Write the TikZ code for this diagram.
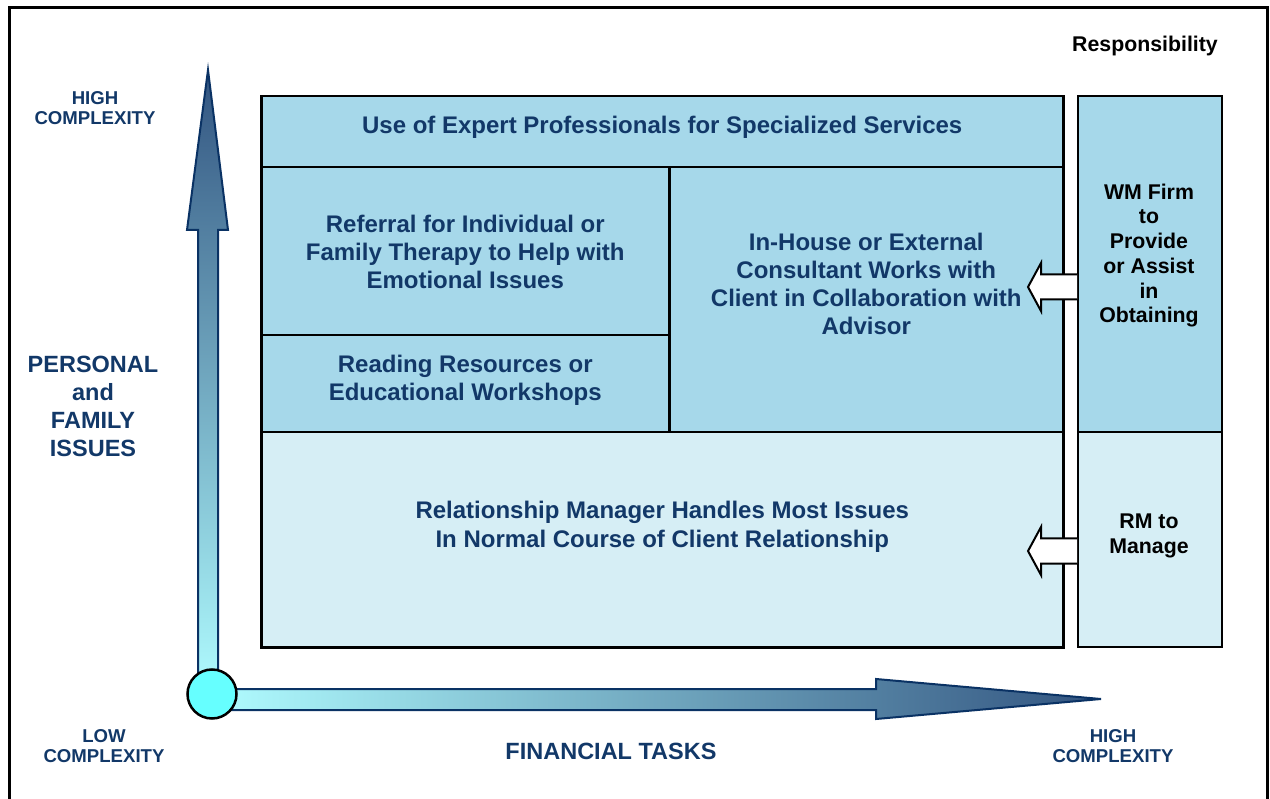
\documentclass[tikz,border=0pt]{standalone}
\usepackage{fontspec}
\usetikzlibrary{calc}
\setmainfont{Liberation Sans}
\definecolor{navy}{RGB}{18,56,104}
\definecolor{outl}{RGB}{10,50,100}
\definecolor{boxdark}{RGB}{166,216,234}
\definecolor{boxlight}{RGB}{214,238,245}
\definecolor{arrdark}{RGB}{50,84,128}
\definecolor{arrlight}{RGB}{176,252,255}
\definecolor{dotfill}{RGB}{102,255,255}
\tikzset{
  gridbox/.style={draw=black, line width=2.5pt, inner sep=0pt, anchor=north west},
  sidebox/.style={draw=black, line width=2pt, inner sep=0pt, anchor=north west},
  gridtext/.style={align=center, inner sep=0pt, font=\bfseries\fontsize{24}{28}\selectfont, text=navy},
  sidetext/.style={align=center, inner sep=0pt, font=\bfseries\fontsize{21.3}{24.7}\selectfont, text=black},
  axislabel/.style={align=center, text=navy, font=\bfseries\fontsize{23.5}{28}\selectfont},
  cplxlabel/.style={align=center, text=navy, font=\bfseries\fontsize{18.6}{20}\selectfont},
  bigarrow/.style={draw=outl, line width=2pt, line join=miter},
  whitearrow/.style={draw=black, fill=white, line width=2pt, line join=miter},
}
\begin{document}
\begin{tikzpicture}[x=1pt,y=-1pt]
\useasboundingbox (0,0) rectangle (1270,799);
% outer frame (bottom edge off-page)
\begin{scope}
\clip (0,0) rectangle (1270,799);
\draw[line width=2.5pt] (9.5,7.5) rectangle (1267.5,820);
\end{scope}

% axes
\path[bigarrow, top color=arrdark, bottom color=arrlight]
  (198,694) -- (198,230) -- (187,230) -- (208,70) -- (228,230) -- (218,230) -- (218,694) -- cycle;
\path[bigarrow, left color=arrlight, right color=arrdark]
  (212,689) -- (876,689) -- (876,679) -- (1101,699) -- (876,719) -- (876,710) -- (212,710) -- cycle;
\node[circle, draw=black, fill=dotfill, line width=2.5pt, minimum size=49pt, inner sep=0pt] (origin) at (212,694) {};

% grid boxes
\node[gridbox, fill=boxlight, minimum width=802pt, minimum height=215pt] (rm) at (260,431) {};
\node[gridbox, fill=boxdark, minimum width=802pt, minimum height=71pt] (expert) at (260,95) {};
\node[gridbox, fill=boxdark, minimum width=408pt, minimum height=168pt] (referral) at (260,166) {};
\node[gridbox, fill=boxdark, minimum width=408pt, minimum height=97pt] (reading) at (260,334) {};
\node[gridbox, fill=boxdark, minimum width=394pt, minimum height=265pt] (inhouse) at (668,166) {};

\node[gridtext, font=\bfseries\fontsize{24}{29}\selectfont] (rm-t) at ($(rm.center)+(0,-12.5)$)
  {Relationship Manager Handles Most Issues\\In Normal Course of Client Relationship};
\node[gridtext] (expert-t) at ($(expert.center)+(0,-4)$)
  {Use of Expert Professionals for Specialized Services};
\node[gridtext] (referral-t) at ($(referral.center)+(0,0.5)$)
  {Referral for Individual or\\Family Therapy to Help with\\Emotional Issues};
\node[gridtext] (reading-t) at ($(reading.center)+(0,-3.5)$)
  {Reading Resources or\\Educational Workshops};
\node[gridtext] (inhouse-t) at ($(inhouse.center)+(0,-15.5)$)
  {In-House or External\\Consultant Works with\\Client in Collaboration with\\Advisor};

% responsibility panel
\node[font=\bfseries\fontsize{21.3}{24}\selectfont] (resp) at (1145,46) {Responsibility};
\node[sidebox, fill=boxdark, minimum width=144pt, minimum height=336pt] (wm) at (1077,95) {};
\node[sidebox, fill=boxlight, minimum width=144pt, minimum height=215pt] (rmp) at (1077,431) {};
\node[sidetext] (wm-t) at ($(wm.center)+(-1,-8.5)$)
  {WM Firm\\to\\Provide\\or Assist\\in\\Obtaining};
\node[sidetext] (rmp-t) at ($(rmp.center)+(-1,-3.5)$)
  {RM to\\Manage};

% block arrows from panel to grid
\coordinate (a1) at (wm.west |- 0,287);
\coordinate (a2) at (rmp.west |- 0,551);
\foreach \a in {a1,a2}{
  \draw[whitearrow] (\a) ++(0,-12.5) -- ++(-36,0) -- ++(0,-11.5) -- ++(-13,24) -- ++(13,24) -- ++(0,-11.5) -- ++(36,0);
}

% axis labels
\node[cplxlabel] (hiy) at (95,108) {HIGH\\COMPLEXITY};
\node[axislabel] (pers) at (93,406) {PERSONAL\\and\\FAMILY\\ISSUES};
\node[cplxlabel] (low) at (104,746) {LOW\\COMPLEXITY};
\node[axislabel] (fin) at (611,751) {FINANCIAL TASKS};
\node[cplxlabel] (hix) at (1113,746) {HIGH\\COMPLEXITY};
\end{tikzpicture}
\end{document}
